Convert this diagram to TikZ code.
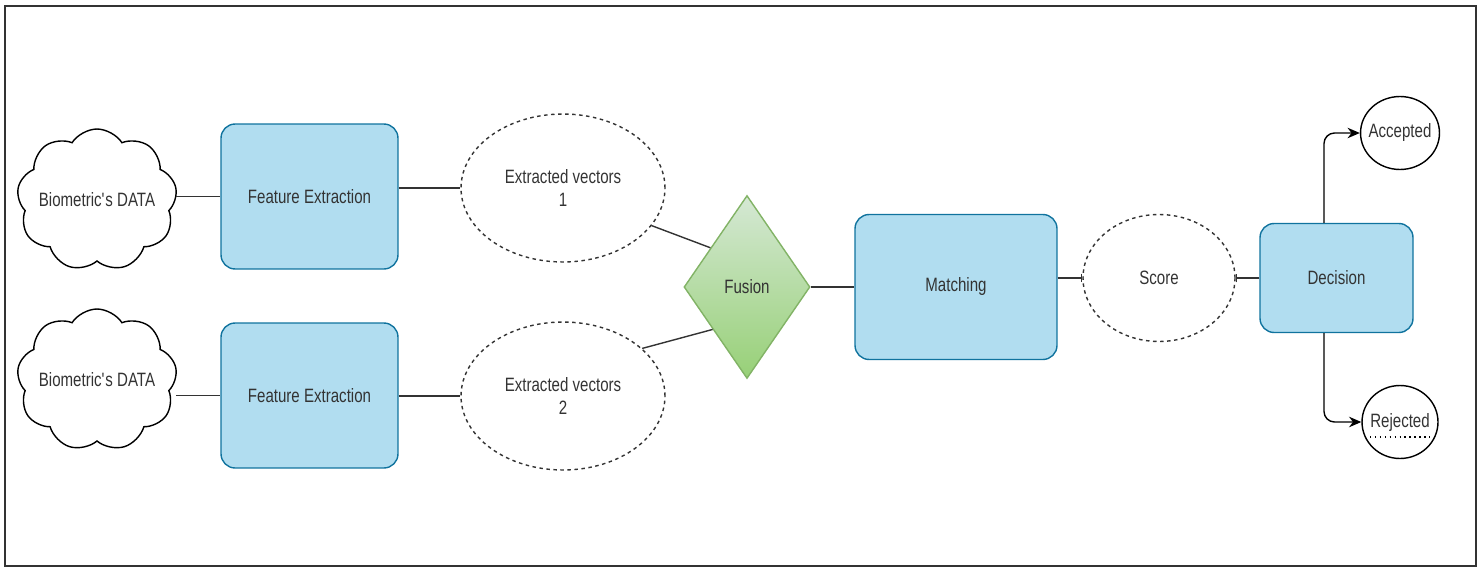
\documentclass[tikz,border=0pt]{standalone}
\usepackage{fontspec}
\setmainfont{Liberation Sans}[FakeStretch=0.78]
\usetikzlibrary{positioning,arrows.meta,shapes,calc}
\definecolor{boxblue}{HTML}{B1DDF0}
\definecolor{boxedge}{HTML}{10739E}
\definecolor{greentop}{HTML}{D5E8D4}
\definecolor{greenbot}{HTML}{97D077}
\definecolor{greenedge}{HTML}{82B366}
\definecolor{txtgray}{HTML}{333333}
\tikzstyle{bbox}=[rectangle, rounded corners=8pt, draw=boxedge, fill=boxblue,
                  thick, text=txtgray, inner sep=2pt, text centered]
\tikzstyle{ebox}=[ellipse, draw=txtgray, dash pattern=on 2pt off 2pt, thick,
                  text=txtgray, align=center, inner sep=0pt]
\tikzstyle{cbox}=[cloud, cloud puffs=9, cloud puff arc=115, cloud ignores aspect,
                  draw=black, thick, inner sep=0pt, minimum width=3.2cm, minimum height=2.84cm]
\tikzstyle{dbox}=[diamond, draw=greenedge, top color=greentop, bottom color=greenbot,
                  thick, text=txtgray, inner sep=0pt, minimum width=2.52cm, minimum height=3.66cm]
\tikzstyle{rbox}=[ellipse, draw=black, thick, text=txtgray, inner sep=-2pt,
                  minimum width=1.52cm, minimum height=1.46cm]
\tikzstyle{pline}=[-, thick, draw=txtgray]
\tikzstyle{aline}=[-{Stealth[length=7pt,width=6pt]}, thick, rounded corners=6pt, draw=black]
\tikzstyle{bline}=[-{Bar[width=5pt]}, thick, draw=txtgray]

\begin{document}
\begin{tikzpicture}[x=0.02cm, y=-0.02cm, font=\fontsize{11}{13}\selectfont]
\useasboundingbox (0,0) rectangle (1484,568);
\draw[thick, draw=txtgray] (5,6) rectangle (1476,566);

% inputs
\node (BIODA1) [cbox, label={[text=txtgray]center:Biometric\textquotesingle s DATA}] at (97,200) {};
\node (BIODA2) [cbox, label={[text=txtgray]center:Biometric\textquotesingle s DATA}] at (97,380) {};
\node (FEXT1) [bbox, minimum width=3.54cm, minimum height=2.9cm] at (309.5,196.5) {Feature Extraction};
\node (FEXT2) [bbox, minimum width=3.54cm, minimum height=2.9cm] at (309.5,395.5) {Feature Extraction};
 \draw[pline] (BIODA1.east |- FEXT1.west) -- (FEXT1.west);
 \draw[pline] (BIODA2.east |- FEXT2.west) -- (FEXT2.west);
\node (EVEC1) [ebox, minimum width=4.08cm, minimum height=2.96cm] at (563,188) {Extracted vectors\\1};
\node (EVEC2) [ebox, minimum width=4.08cm, minimum height=2.96cm] at (563,396) {Extracted vectors\\2};
 \draw[pline] (FEXT1.east |- EVEC1.west) -- (EVEC1.west);
 \draw[pline] (FEXT2.east |- EVEC2.west) -- (EVEC2.west);

% fusion and matching
\node (FUSN) [dbox] at (747,287) {Fusion};
 \draw[pline] (EVEC1.-23) -- (FUSN.133);
 \draw[pline] (EVEC2.31) -- (FUSN.231);
\node (MTCH) [bbox, minimum width=4.04cm, minimum height=2.9cm] at (956,287) {Matching};
 \draw[pline] (FUSN.east) -- (MTCH.west);
\node (SCOR) [ebox, minimum width=3.04cm, minimum height=2.54cm] at (1159,278) {Score};
 \draw[bline] (MTCH.east |- SCOR.west) -- (SCOR.west);

% decision
\node (DCSN) [bbox, minimum width=3.06cm, minimum height=2.18cm] at (1336.5,278) {Decision};
 \draw[bline] (DCSN.west) -- (SCOR.east);
\node (ACPT) [rbox] at (1400,133) {Accepted};
\node (RJCT) [rbox] at (1400,422) {Rejected};
 \draw[aline] ([xshift=-0.25cm]DCSN.north) |- (ACPT.west);
 \draw[aline] ([xshift=-0.25cm]DCSN.south) |- (RJCT.west);
 \draw[dotted, thick] ($(RJCT.center)+(-30,15)$) -- ++(60,0);

\end{tikzpicture}
\end{document}
